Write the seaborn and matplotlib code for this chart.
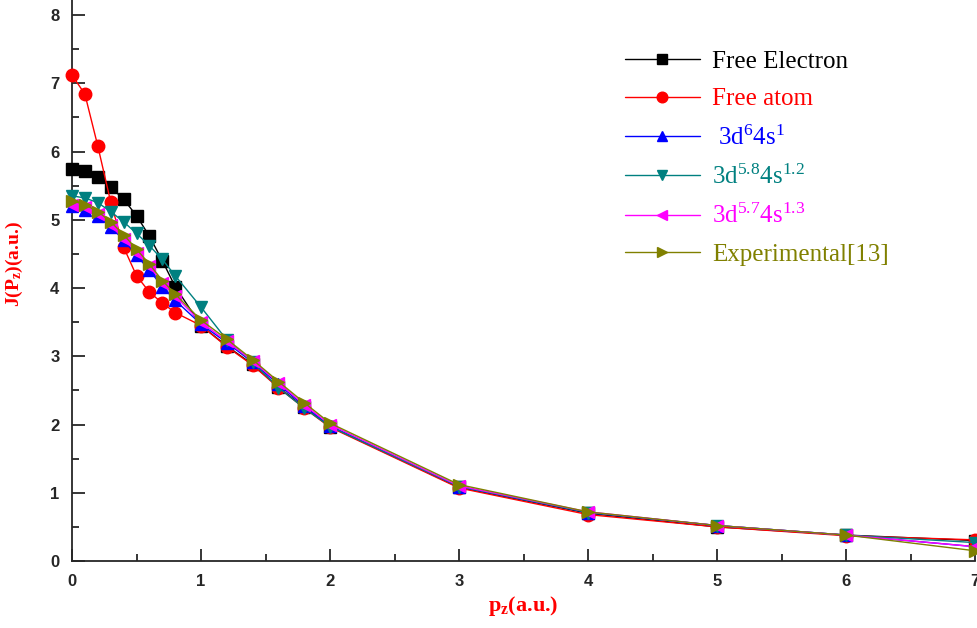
import matplotlib
matplotlib.use("Agg")
import matplotlib.pyplot as plt
from matplotlib.ticker import MultipleLocator
import seaborn as sns
import pandas as pd

# ---- data ----
pz = [0, 0.1, 0.2, 0.3, 0.4, 0.5, 0.6, 0.7, 0.8, 1.0, 1.2, 1.4, 1.6, 1.8, 2.0, 3.0, 4.0, 5.0, 6.0, 7.0]

free_electron = [5.74, 5.72, 5.62, 5.48, 5.30, 5.06, 4.76, 4.40, 4.02, 3.45, 3.15, 2.88, 2.55, 2.25, 1.97, 1.08, 0.70, 0.50, 0.38, 0.30]
free_atom     = [7.12, 6.84, 6.08, 5.26, 4.60, 4.18, 3.94, 3.78, 3.64, 3.45, 3.14, 2.87, 2.54, 2.24, 1.96, 1.07, 0.68, 0.50, 0.37, 0.31]
cfg_6_1       = [5.20, 5.15, 5.05, 4.90, 4.70, 4.48, 4.26, 4.02, 3.82, 3.47, 3.20, 2.91, 2.59, 2.27, 1.98, 1.09, 0.71, 0.52, 0.38, 0.21]
cfg_58_12     = [5.35, 5.32, 5.25, 5.12, 4.97, 4.80, 4.62, 4.42, 4.18, 3.72, 3.24, 2.91, 2.54, 2.24, 1.97, 1.09, 0.71, 0.52, 0.38, 0.27]
cfg_57_13     = [5.22, 5.18, 5.08, 4.92, 4.72, 4.52, 4.32, 4.08, 3.88, 3.50, 3.22, 2.93, 2.61, 2.29, 2.00, 1.10, 0.72, 0.52, 0.38, 0.21]
experimental  = [5.28, 5.22, 5.12, 4.97, 4.78, 4.57, 4.35, 4.11, 3.91, 3.53, 3.25, 2.95, 2.63, 2.32, 2.02, 1.12, 0.72, 0.52, 0.38, 0.15]

labels = ["Free Electron", "Free atom", " 3d$^{6}$4s$^{1}$", "3d$^{5.8}$4s$^{1.2}$",
          "3d$^{5.7}$4s$^{1.3}$", "Experimental[13]"]
series = [free_electron, free_atom, cfg_6_1, cfg_58_12, cfg_57_13, experimental]
colors = ["#000000", "#FF0000", "#0000FF", "#008080", "#FF00FF", "#808000"]
markers = ["s", "o", "^", "v", "<", ">"]

# ---- style ----
sns.set_style("ticks")
plt.rcParams["font.family"] = ["Liberation Sans", "DejaVu Sans"]
plt.rcParams["mathtext.fontset"] = "custom"
plt.rcParams["mathtext.rm"] = "Liberation Serif"
plt.rcParams["mathtext.it"] = "Liberation Serif:italic"
plt.rcParams["mathtext.bf"] = "Liberation Serif:bold"

fig = plt.figure(figsize=(9.77, 6.28), dpi=100)
ax = fig.add_axes([72 / 977, 1 - 561 / 628, (975 - 72) / 977, 561 / 628])

for lab, vals, col, mk in zip(labels, series, colors, markers):
    df = pd.DataFrame({"pz": pz, "J": vals})
    sns.lineplot(data=df, x="pz", y="J", ax=ax, color=col, marker=mk,
                 markersize=9, markeredgecolor=col, markeredgewidth=1,
                 linewidth=1, label=lab, clip_on=False, zorder=3)

ax.set_xlim(0, 7)
ax.set_ylim(0, 8.22)
ax.xaxis.set_major_locator(MultipleLocator(1))
ax.xaxis.set_minor_locator(MultipleLocator(0.5))
ax.yaxis.set_major_locator(MultipleLocator(1))
ax.yaxis.set_minor_locator(MultipleLocator(0.5))
ax.tick_params(which="major", direction="in", length=9, width=1.3, labelsize=12, pad=9)
ax.tick_params(which="minor", direction="in", length=5, width=1.3)
for lbl in ax.get_xticklabels() + ax.get_yticklabels():
    lbl.set_fontweight("bold")
ax.spines["top"].set_visible(False)
ax.spines["right"].set_visible(False)
ax.spines["left"].set_linewidth(1.3)
ax.spines["bottom"].set_linewidth(1.3)

ax.set_xlabel("p$_\\mathbf{z}$(a.u.)", color="#FF0000", fontsize=16,
              fontweight="bold", family="Liberation Serif", labelpad=4)
ax.set_ylabel("J(P$_\\mathbf{z}$)(a.u.)", color="#FF0000", fontsize=14,
              fontweight="bold", family="Liberation Serif", labelpad=2)
ax.yaxis.set_label_coords(-0.052, 0.53)

leg = ax.legend(loc="upper left", bbox_to_anchor=(0.612, 0.91), frameon=False,
                prop={"family": "Liberation Serif", "size": 18},
                handlelength=3.0, handletextpad=0.5, labelspacing=0.6,
                borderaxespad=0, borderpad=0, markerscale=0.85)
for txt, col in zip(leg.get_texts(), colors):
    txt.set_color(col)

fig.savefig("out.png", dpi=100)
